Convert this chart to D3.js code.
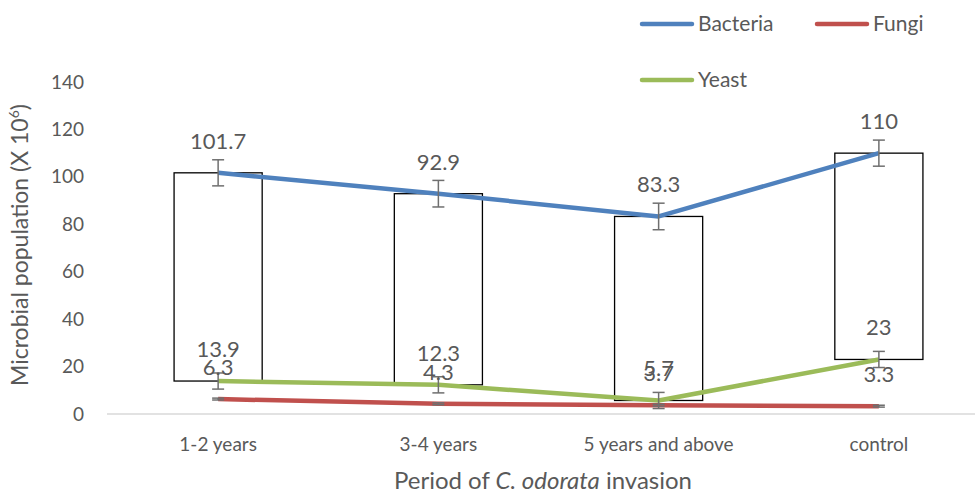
<!DOCTYPE html>
<html>
<head>
<meta charset="utf-8">
<script src="https://cdn.jsdelivr.net/npm/d3@7"></script>
<style>
  body { margin: 0; background: #fff; }
  svg { display: block; font-family: Lato, "Liberation Sans", sans-serif; }
</style>
</head>
<body>
<svg width="975" height="493"></svg>
<script>
const categories = ["1-2 years", "3-4 years", "5 years and above", "control"];
const bacteria = [101.7, 92.9, 83.3, 110];
const fungi = [6.3, 4.3, 3.7, 3.3];
const yeast = [13.9, 12.3, 5.7, 23];
const bacteriaErr = [5.5, 5.6, 5.6, 5.5];
const fungiErr = [0.4, 0.4, 0.4, 0.4];
const yeastErr = [3.4, 3.4, 3.4, 3.4];
const yTicks = [0, 20, 40, 60, 80, 100, 120, 140];

const svg = d3.select("svg");
const textColor = "#595959";

let series = [
    {name: "Bacteria", values: bacteria, err: bacteriaErr, color: "#4F81BD"},
    {name: "Fungi", values: fungi, err: fungiErr, color: "#C0504D"},
    {name: "Yeast", values: yeast, err: yeastErr, color: "#9BBB59"}
];

let x = d3.scaleBand()
    .domain(categories)
    .range([108, 989]);

let cx = d => x(d) + x.bandwidth() / 2;

let y = d3.scaleLinear()
    .domain([0, 140])
    .range([414, 82]);

// y axis labels (no line)
let yAxis = svg.append("g")
    .attr("transform", "translate(84,0)")
    .call(d3.axisLeft(y).tickValues(yTicks).tickSize(0).tickPadding(0));
yAxis.select(".domain").remove();
yAxis.selectAll("text")
    .attr("fill", textColor)
    .style("font-size", "19px")
    .style("font-family", "Lato, sans-serif");

// x axis line
svg.append("line")
    .attr("x1", 107)
    .attr("x2", 975)
    .attr("y1", y(0))
    .attr("y2", y(0))
    .attr("stroke", "#D9D9D9")
    .attr("stroke-width", 1.3);

svg.append("g")
    .selectAll("text")
    .data(categories)
    .enter()
    .append("text")
    .attr("x", d => cx(d))
    .attr("y", 451)
    .attr("text-anchor", "middle")
    .attr("fill", textColor)
    .style("font-size", "19px")
    .text(d => d);

// up-down bars between bacteria and yeast
let bw = x.bandwidth() * 0.4;
svg.append("g")
    .selectAll("rect")
    .data(categories)
    .enter()
    .append("rect")
    .attr("x", d => cx(d) - bw / 2)
    .attr("y", (d, i) => y(Math.max(bacteria[i], yeast[i])))
    .attr("width", bw)
    .attr("height", (d, i) => Math.abs(y(yeast[i]) - y(bacteria[i])))
    .attr("fill", "#fff")
    .attr("stroke", "#000")
    .attr("stroke-width", 1.3);

// lines
let line = d3.line()
    .x((d, i) => cx(categories[i]))
    .y(d => y(d));

series.slice().reverse().forEach(function(s) {
    svg.append("path")
        .datum(s.values)
        .attr("d", line)
        .attr("fill", "none")
        .attr("stroke", s.color)
        .attr("stroke-width", 4.5)
        .attr("stroke-linejoin", "round");
});

// error bars
series.forEach(function(s) {
    let g = svg.append("g")
        .attr("stroke", "#6F6F6F")
        .attr("stroke-width", 1.5);
    s.values.forEach(function(v, i) {
        let px = cx(categories[i]);
        let top = y(v + s.err[i]);
        let bot = y(v - s.err[i]);
        g.append("line").attr("x1", px).attr("x2", px).attr("y1", top).attr("y2", bot);
        g.append("line").attr("x1", px - 6).attr("x2", px + 6).attr("y1", top).attr("y2", top);
        g.append("line").attr("x1", px - 6).attr("x2", px + 6).attr("y1", bot).attr("y2", bot);
    });
});

// data labels
series.forEach(function(s) {
    svg.append("g")
        .selectAll("text")
        .data(s.values)
        .enter()
        .append("text")
        .attr("x", (d, i) => cx(categories[i]))
        .attr("y", d => y(d) - 24)
        .attr("text-anchor", "middle")
        .attr("fill", textColor)
        .style("font-size", "22px")
        .text(d => d);
});

// legend
let legendPos = [[640, 24], [815, 24], [640, 80]];
series.forEach(function(s, i) {
    let lx = legendPos[i][0];
    let ly = legendPos[i][1];
    svg.append("line")
        .attr("x1", lx + 2)
        .attr("x2", lx + 52)
        .attr("y1", ly)
        .attr("y2", ly)
        .attr("stroke", s.color)
        .attr("stroke-width", 4.5)
        .attr("stroke-linecap", "round");
    svg.append("text")
        .attr("x", lx + 58)
        .attr("y", ly + 7)
        .attr("fill", textColor)
        .style("font-size", "21px")
        .text(s.name);
});

// axis titles
let yTitle = svg.append("text")
    .attr("transform", "translate(28,245) rotate(-90)")
    .attr("text-anchor", "middle")
    .attr("fill", textColor)
    .style("font-size", "23px");
yTitle.append("tspan").text("Microbial population (X 10");
yTitle.append("tspan").attr("dy", -9).style("font-size", "14px").text("6");
yTitle.append("tspan").attr("dy", 9).text(")");

let xTitle = svg.append("text")
    .attr("x", 543)
    .attr("y", 489)
    .attr("text-anchor", "middle")
    .attr("fill", textColor)
    .style("font-size", "24px");
xTitle.append("tspan").text("Period of ");
xTitle.append("tspan").style("font-style", "italic").text("C. odorata");
xTitle.append("tspan").text(" invasion");
</script>
</body>
</html>
